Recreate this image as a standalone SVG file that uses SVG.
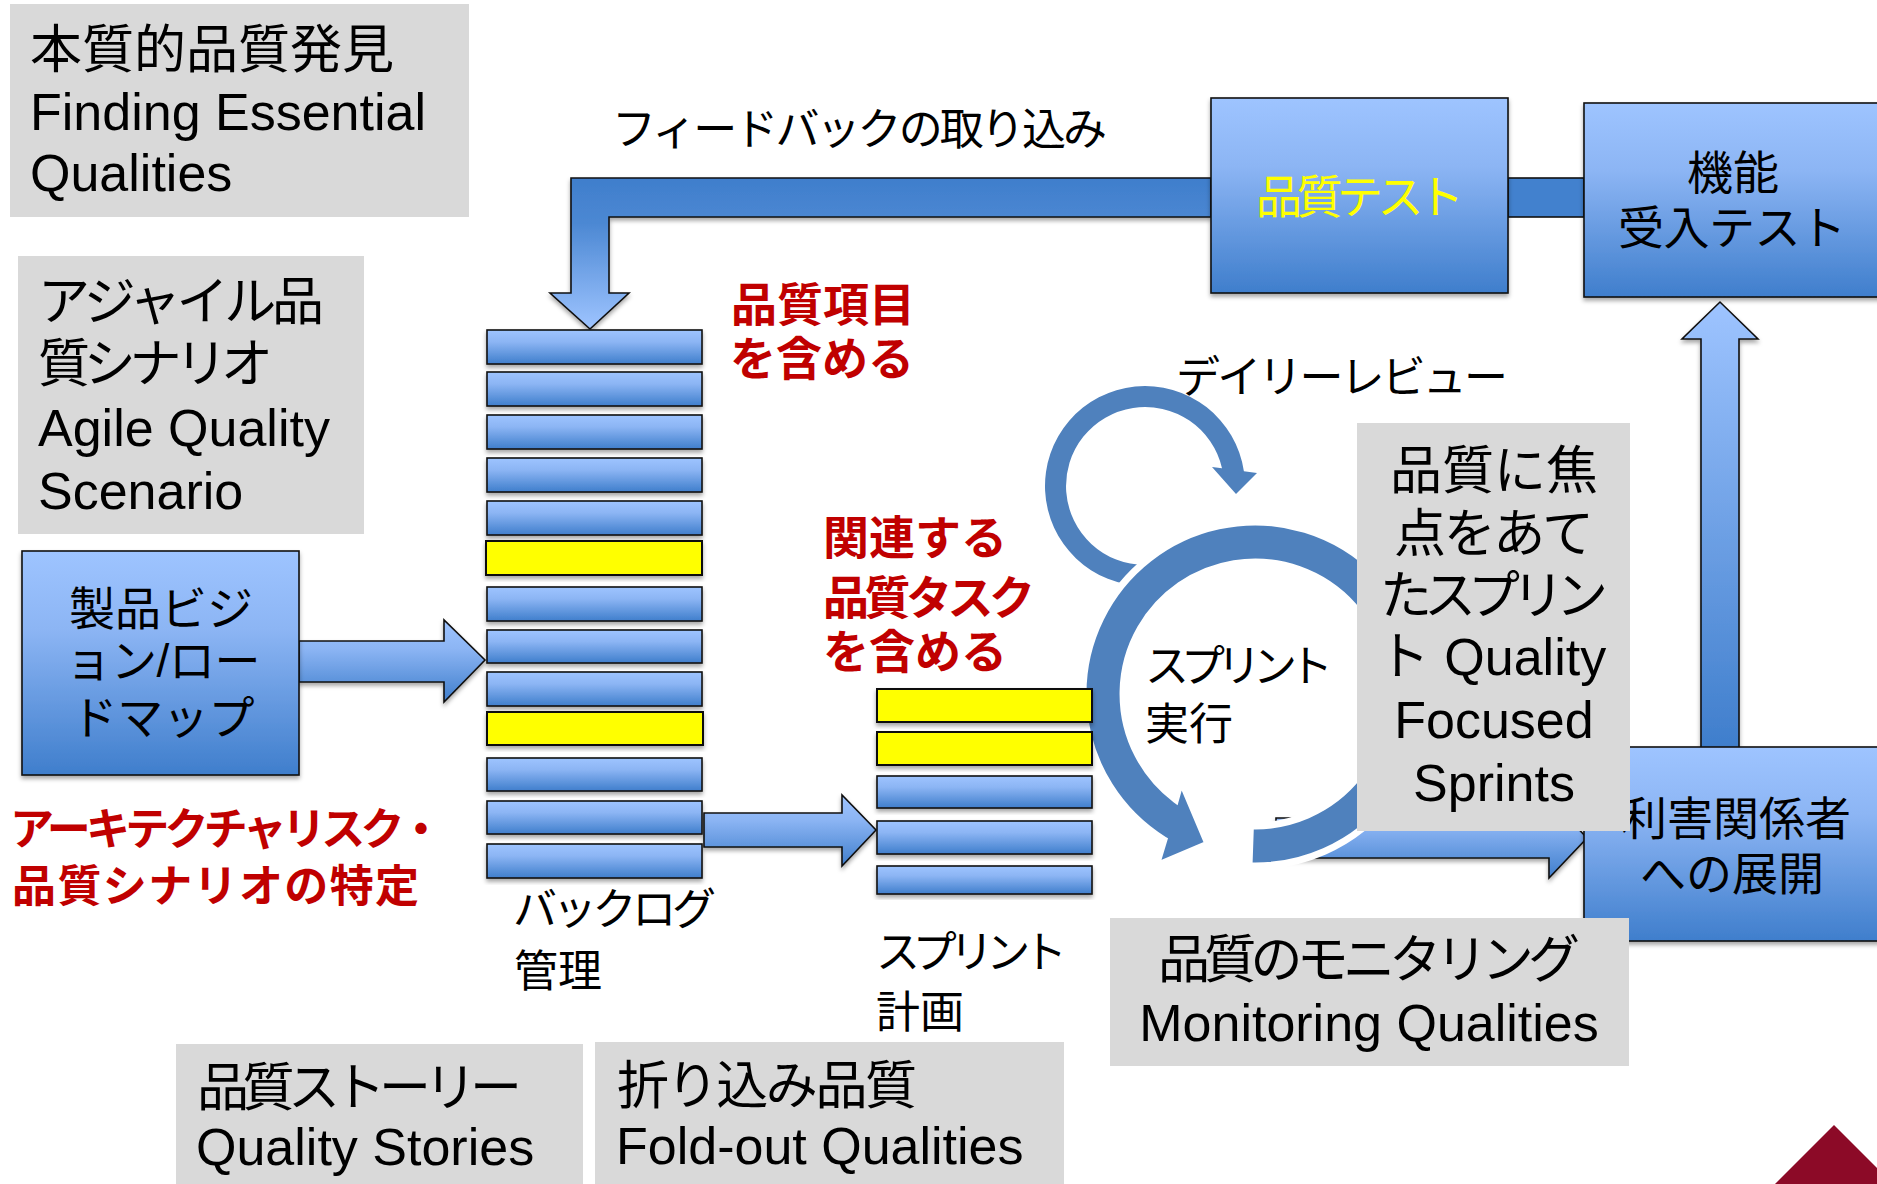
<svg xmlns="http://www.w3.org/2000/svg" width="1877" height="1184" viewBox="0 0 1877 1184">
<style>
.t{font-family:'Liberation Sans','Noto Sans CJK JP',sans-serif;fill:#000}
.big{font-size:52px}
.mid{font-size:46px}
.lab{font-size:44px}
.red{font-family:'Liberation Sans','Noto Sans CJK JP',sans-serif;fill:#C00000;font-weight:bold;font-size:46px}
.gray{fill:#D9D9D9}
.box{fill:url(#gBox);stroke:#111;stroke-width:1.6}
.bar{fill:url(#gBox);stroke:#111;stroke-width:1.6}
.ybar{fill:#FFFF00;stroke:#111;stroke-width:2}
.arr{fill:url(#gBox);stroke:#111;stroke-width:1.6}
.ring{fill:#4F81BD}
</style>
<defs>
<linearGradient id="gBox" x1="0" y1="0" x2="0" y2="1">
<stop offset="0" stop-color="#9EC4FF"/>
<stop offset="0.35" stop-color="#8CB5F4"/>
<stop offset="1" stop-color="#3F7ECC"/>
</linearGradient>
<linearGradient id="gUp" x1="0" y1="0" x2="0" y2="1">
<stop offset="0" stop-color="#9EC4FF"/>
<stop offset="1" stop-color="#3F7ECC"/>
</linearGradient>
<linearGradient id="gFb" gradientUnits="userSpaceOnUse" x1="0" y1="178" x2="0" y2="329">
<stop offset="0" stop-color="#3F7ECC"/>
<stop offset="0.3" stop-color="#4C88D3"/>
<stop offset="1" stop-color="#9EC4FF"/>
</linearGradient>
<filter id="sh" x="-10%" y="-10%" width="120%" height="130%">
<feDropShadow dx="0" dy="3" stdDeviation="2" flood-color="#000" flood-opacity="0.35"/>
</filter>
</defs>
<rect width="1877" height="1184" fill="#FFFFFF"/>

<g id="finding-essential">
<rect class="gray" x="10" y="4" width="459" height="213"/>
<text class="t big" x="30" y="68">本質的品質発見</text>
<text class="t big" x="30" y="130">Finding Essential</text>
<text class="t big" x="30" y="191">Qualities</text>
</g>

<g id="agile-scenario">
<rect class="gray" x="18" y="256" width="346" height="278"/>
<text class="t big" x="38" y="320" textLength="286">アジャイル品</text>
<text class="t big" x="38" y="382" textLength="235">質シナリオ</text>
<text class="t big" x="38" y="446">Agile Quality</text>
<text class="t big" x="38" y="509">Scenario</text>
</g>

<g id="connectors">
<polygon class="arr" filter="url(#sh)" points="1211,178 571,178 571,293 550,293 590,329 629,293 609,293 609,217 1211,217" style="fill:url(#gFb)"/>
<rect x="1508" y="178" width="76" height="39" fill="#4281CE" stroke="#111" stroke-width="1.6"/>
<polygon class="arr" filter="url(#sh)" points="299,641 444,641 444,620 485,660 444,702 444,682 299,682"/>
<polygon class="arr" filter="url(#sh)" points="704,813 842,813 842,795 876,830 842,866 842,847 704,847"/>
<polygon class="arr" filter="url(#sh)" points="1701,748 1701,339 1682,339 1720,302 1758,339 1739,339 1739,748" style="fill:url(#gUp)"/>
<polygon class="arr" filter="url(#sh)" points="1276,818 1549,818 1549,798 1587,838 1549,878 1549,858 1276,858"/>
<path id="daily-review-arc" class="ring" d="M1145,586 A100,100 0 1 1 1243.9,471.2 L1257,473 L1236,494 L1212,467 L1222,468.2 A79,79 0 1 0 1145,565 Z"/>
<path id="sprint-cycle-arc" class="ring" stroke="#FFFFFF" stroke-width="7" d="M1249,865.9 A172,172 0 1 0 1163.9,839.9 L1156,866 L1208,844 L1181,780 L1175.6,799.4 A132,132 0 1 1 1250.4,825.9 Z"/>
</g>

<g id="quality-test">
<rect class="box" filter="url(#sh)" x="1211" y="98" width="297" height="195"/>
<text class="t mid" x="1360" y="213" text-anchor="middle" style="fill:#FFFF00" textLength="208">品質テスト</text>
</g>

<g id="acceptance-test">
<rect class="box" filter="url(#sh)" x="1584" y="103" width="300" height="194"/>
<text class="t mid" x="1733" y="189" text-anchor="middle">機能</text>
<text class="t mid" x="1732" y="244" text-anchor="middle" textLength="228">受入テスト</text>
</g>

<g id="product-vision">
<rect class="box" filter="url(#sh)" x="22" y="551" width="277" height="224"/>
<text class="t mid" x="161" y="625" text-anchor="middle">製品ビジ</text>
<text class="t mid" x="163" y="677" text-anchor="middle" textLength="195">ョン/ロー</text>
<text class="t mid" x="163" y="734" text-anchor="middle" textLength="183">ドマップ</text>
</g>

<g id="backlog">
<rect class="bar" filter="url(#sh)" x="487" y="330" width="215" height="34"/>
<rect class="bar" filter="url(#sh)" x="487" y="372" width="215" height="34"/>
<rect class="bar" filter="url(#sh)" x="487" y="415" width="215" height="34"/>
<rect class="bar" filter="url(#sh)" x="487" y="458" width="215" height="34"/>
<rect class="bar" filter="url(#sh)" x="487" y="501" width="215" height="34"/>
<rect class="ybar" filter="url(#sh)" x="486" y="541" width="216" height="34"/>
<rect class="bar" filter="url(#sh)" x="487" y="587" width="215" height="34"/>
<rect class="bar" filter="url(#sh)" x="487" y="630" width="215" height="33"/>
<rect class="bar" filter="url(#sh)" x="487" y="672" width="215" height="34"/>
<rect class="ybar" filter="url(#sh)" x="487" y="712" width="216" height="33"/>
<rect class="bar" filter="url(#sh)" x="487" y="758" width="215" height="33"/>
<rect class="bar" filter="url(#sh)" x="487" y="801" width="215" height="33"/>
<rect class="bar" filter="url(#sh)" x="487" y="844" width="215" height="34"/>
<text class="t lab" x="513" y="925" textLength="203">バックログ</text>
<text class="t lab" x="514" y="987">管理</text>
</g>

<g id="sprint-plan">
<rect class="ybar" filter="url(#sh)" x="877" y="689" width="215" height="33"/>
<rect class="ybar" filter="url(#sh)" x="877" y="732" width="215" height="33"/>
<rect class="bar" filter="url(#sh)" x="877" y="776" width="215" height="32"/>
<rect class="bar" filter="url(#sh)" x="877" y="821" width="215" height="33"/>
<rect class="bar" filter="url(#sh)" x="877" y="866" width="215" height="28"/>
<text class="t lab" x="876" y="968" textLength="191">スプリント</text>
<text class="t lab" x="876" y="1028">計画</text>
</g>

<g id="notes-red">
<text class="red" x="731" y="321">品質項目</text>
<text class="red" x="730" y="375">を含める</text>
<text class="red" x="823" y="554">関連する</text>
<text class="red" x="823" y="614" textLength="212">品質タスク</text>
<text class="red" x="823" y="668">を含める</text>
<text class="red" x="10" y="845" style="font-size:44px" textLength="433">アーキテクチャリスク・</text>
<text class="red" x="12" y="902" style="font-size:44px" textLength="407">品質シナリオの特定</text>
</g>

<g id="labels">
<text class="t lab" x="612" y="145" textLength="495">フィードバックの取り込み</text>
<text class="t lab" x="1176" y="393" textLength="332">デイリーレビュー</text>
<text class="t lab" x="1145" y="682" textLength="188">スプリント</text>
<text class="t lab" x="1145" y="740">実行</text>
</g>

<g id="stakeholders">
<rect class="box" filter="url(#sh)" x="1584" y="747" width="300" height="194"/>
<text class="t mid" x="1736" y="835" text-anchor="middle">利害関係者</text>
<text class="t mid" x="1732" y="890" text-anchor="middle">への展開</text>
</g>

<g id="focused-sprints">
<rect class="gray" x="1357" y="423" width="273" height="408"/>
<text class="t big" x="1494" y="489" text-anchor="middle">品質に焦</text>
<text class="t big" x="1494" y="552" text-anchor="middle" textLength="200">点をあて</text>
<text class="t big" x="1494" y="614" text-anchor="middle" textLength="228">たスプリン</text>
<text class="t big" x="1492" y="675" text-anchor="middle">ト Quality</text>
<text class="t big" x="1494" y="738" text-anchor="middle">Focused</text>
<text class="t big" x="1494" y="801" text-anchor="middle">Sprints</text>
</g>

<g id="monitoring">
<rect class="gray" x="1110" y="918" width="519" height="148"/>
<text class="t big" x="1369" y="978" text-anchor="middle" textLength="422">品質のモニタリング</text>
<text class="t big" x="1369" y="1041" text-anchor="middle">Monitoring Qualities</text>
</g>

<g id="quality-stories">
<rect class="gray" x="176" y="1044" width="407" height="140"/>
<text class="t big" x="197" y="1106" textLength="325">品質ストーリー</text>
<text class="t big" x="196" y="1165">Quality Stories</text>
</g>

<g id="fold-out">
<rect class="gray" x="595" y="1042" width="469" height="142"/>
<text class="t big" x="617" y="1104" textLength="300">折り込み品質</text>
<text class="t big" x="616" y="1164">Fold-out Qualities</text>
</g>

<polygon id="corner-mark" points="1834,1125 1893,1184 1775,1184" fill="#8C0A27"/>
</svg>
